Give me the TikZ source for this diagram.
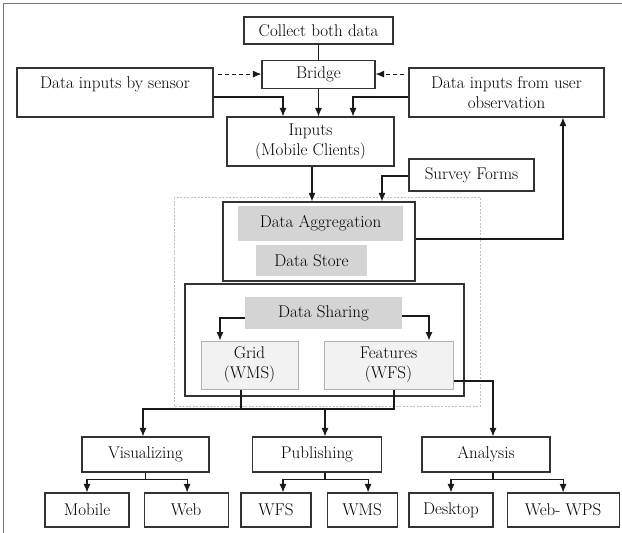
\documentclass[tikz,border=0pt]{standalone}
\usepackage{tikz}
\usetikzlibrary{shapes,arrows,arrows.meta,positioning,calc}

\begin{document}
\begin{tikzpicture}[x=1pt,y=-1pt,
                box/.style={draw=black!80, line width=1.1pt, rectangle, fill=white, align=center, font=\fontsize{17}{20}\selectfont},
                shadebox/.style={rectangle, fill=black!17, font=\fontsize{17}{20}\selectfont},
                lightbox/.style={draw=black!30, line width=1pt, rectangle, fill=black!5, align=center, font=\fontsize{17}{20}\selectfont},
                arr/.style={-{Latex[length=8.5pt,width=7pt]}, line width=1.1pt, draw=black!90}]
                \useasboundingbox (0,0) rectangle (622,533);
                \draw[black!55, line width=0.8pt] (3,533) |- (622,3);
                \draw[black!25, line width=1pt, dash pattern=on 2pt off 1.5pt] (174,197) rectangle (480,406);
                \node[box, minimum width=149pt, minimum height=27pt] (collect) at (318.5,30.5) {Collect both data};
                \node[box, minimum width=113pt, minimum height=28pt, below=15pt of collect] (bridge) {Bridge};
                \node[box, minimum width=196pt, minimum height=49pt] (sensor) at (115,92.5) {Data inputs by sensor\\\mbox{}};
                \node[box, minimum width=195pt, minimum height=49pt] (observe) at (506.5,92.5) {Data inputs from user\\observation};
                \node[box, minimum width=167pt, minimum height=49pt] (inputs) at (310.5,141.5) {Inputs\\(Mobile Clients)};
                \node[box, minimum width=125pt, minimum height=32pt] (survey) at (471.5,175) {Survey Forms};
                \node[box, minimum width=192pt, minimum height=79pt] (aggr) at (319,241.5) {};
                \node[shadebox, minimum width=165pt, minimum height=35pt] (aggrtxt) at (320.5,223.5) {Data Aggregation};
                \node[shadebox, minimum width=111pt, minimum height=31pt] (store) at (311.5,260.5) {Data Store};
                \node[box, minimum width=279pt, minimum height=112pt] (sharebox) at (324.5,340) {};
                \node[shadebox, minimum width=157pt, minimum height=32pt] (sharing) at (323.5,313) {Data Sharing};
                \node[lightbox, minimum width=97pt, minimum height=48pt] (grid) at (249.5,365) {Grid\\(WMS)};
                \node[lightbox, minimum width=129pt, minimum height=48pt] (features) at (388.5,365) {Features\\(WFS)};
                \node[box, minimum width=127pt, minimum height=35pt] (visual) at (145.5,454.5) {Visualizing};
                \node[box, minimum width=129pt, minimum height=35pt] (publish) at (317,454.5) {Publishing};
                \node[box, minimum width=128pt, minimum height=35pt] (analysis) at (486,454.5) {Analysis};
                \node[box, minimum width=84pt, minimum height=34pt] (mobile) at (87,510) {Mobile};
                \node[box, minimum width=84pt, minimum height=34pt, right=14pt of mobile] (web) {Web};
                \node[box, minimum width=70pt, minimum height=34pt] (wfs) at (276,510) {WFS};
                \node[box, minimum width=70pt, minimum height=34pt, right=15pt of wfs] (wms) {WMS};
                \node[box, minimum width=84pt, minimum height=34pt] (desktop) at (451,510) {Desktop};
                \node[box, minimum width=112pt, minimum height=34pt, right=13pt of desktop] (webwps) {Web- WPS};
                \draw[line width=1.1pt, black!90] (collect) -- (bridge);
                \draw[arr, dash pattern=on 4pt off 3pt, shorten <=4pt] (sensor.east |- bridge.west) -- (bridge.west);
                \draw[arr, dash pattern=on 4pt off 3pt, shorten <=4pt] (observe.west |- bridge.east) -- (bridge.east);
                \draw[arr] ([yshift=-4.5pt]sensor.east) -| ([xshift=-27.5pt]inputs.north);
                \draw[arr] (bridge) -- (bridge |- inputs.north);
                \draw[arr] ([yshift=-4.5pt]observe.west) -| ([xshift=42.5pt]inputs.north);
                \draw[arr] ([xshift=1.5pt]inputs.south) -- ([xshift=1.5pt]inputs.south |- aggr.north);
                \draw[arr] ([yshift=-1pt]survey.west) -| ([xshift=63pt]aggr.north);
                \draw[arr] ([yshift=2.5pt]aggr.east) -| ([xshift=56.5pt]observe.south);
                \draw[arr] ([yshift=-5pt]sharing.west) -| ([xshift=-29.5pt]grid.north);
                \draw[arr] ([yshift=-3pt]sharing.east) -| ([xshift=40.5pt]features.north);
                \coordinate (bus) at (325,409);
                \draw[line width=1.1pt, black!90] ([xshift=-8.5pt]grid.south) -- ([xshift=-8.5pt]grid.south |- bus);
                \draw[arr] ([xshift=5.5pt]features.south) |- ([xshift=-2.5pt]visual.north |- bus) -- ([xshift=-2.5pt]visual.north);
                \draw[arr] (bus) -- (bus |- publish.north);
                \draw[arr] ([yshift=-16pt]features.east) -| ([xshift=7pt]analysis.north);
                \draw[arr] (visual.south) -- ++(0,7) -| (mobile.north);
                \draw[arr] (visual.south) -- ++(0,7) -| ([xshift=1pt]web.north);
                \draw[arr] ([xshift=8pt]publish.south) -- ++(0,7) -| ([xshift=7pt]wfs.north);
                \draw[arr] ([xshift=8pt]publish.south) -- ++(0,7) -| ([xshift=6pt]wms.north);
                \draw[arr] ([xshift=7pt]analysis.south) -- ++(0,7) -| (desktop.north);
                \draw[arr] ([xshift=7pt]analysis.south) -- ++(0,7) -| (webwps.north);
\end{tikzpicture}
\end{document}
